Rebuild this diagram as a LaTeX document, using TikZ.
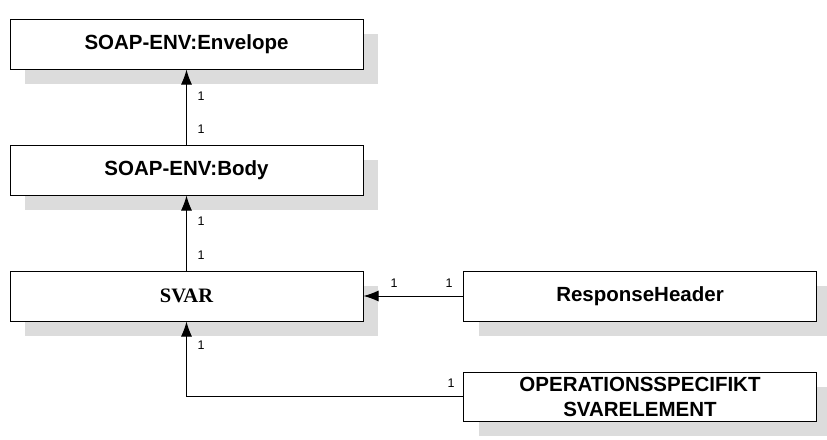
\documentclass[tikz,border=0pt]{standalone}
\usepackage{fontspec}
\setmainfont{Liberation Sans}
\newfontfamily\serifbold{Liberation Serif}
\usetikzlibrary{arrows.meta,shadows}
\definecolor{shadowgray}{RGB}{220,220,220}
\begin{document}
\begin{tikzpicture}[x=1pt,y=-1pt,
  classbox/.style={draw=black, line width=1pt, fill=white, minimum width=353pt, minimum height=50pt,
    inner sep=0pt, align=center, font=\fontsize{20.5}{25}\selectfont\bfseries,
    general shadow={shadow xshift=15pt, shadow yshift=-15pt, fill=shadowgray, draw=none}},
  conn/.style={line width=1pt, draw=black},
  arr/.style={conn, -{Latex[length=15pt,width=11pt]}},
  mult/.style={font=\fontsize{12.5}{14}\selectfont, inner sep=0pt}]
\useasboundingbox (0,0) rectangle (827,439);
\node[classbox] (env) at (186.5,44) {SOAP-ENV:Envelope};
\node[classbox] (body) at (186.5,170) {SOAP-ENV:Body};
\node[classbox, font=\fontsize{20.5}{25}\selectfont\serifbold\bfseries] (svar) at (186.5,296) {SVAR};
\node[classbox] (resp) at (640,296) {ResponseHeader};
\node[classbox, minimum height=49pt] (ops) at (640,396.5) {OPERATIONSSPECIFIKT\\SVARELEMENT};
\draw[arr] (body) -- (env);
\draw[arr] (svar) -- (body);
\draw[arr] (resp) -- (svar);
\draw[arr] (ops.west) -| (svar.south);
\node[mult] (m1) at (201,96) {1};
\node[mult] (m2) at (201,129) {1};
\node[mult] (m3) at (201,221) {1};
\node[mult] (m4) at (201,255) {1};
\node[mult] (m5) at (394,283) {1};
\node[mult] (m6) at (449,283) {1};
\node[mult] (m7) at (201,345) {1};
\node[mult] (m8) at (451,383) {1};
\end{tikzpicture}
\end{document}
